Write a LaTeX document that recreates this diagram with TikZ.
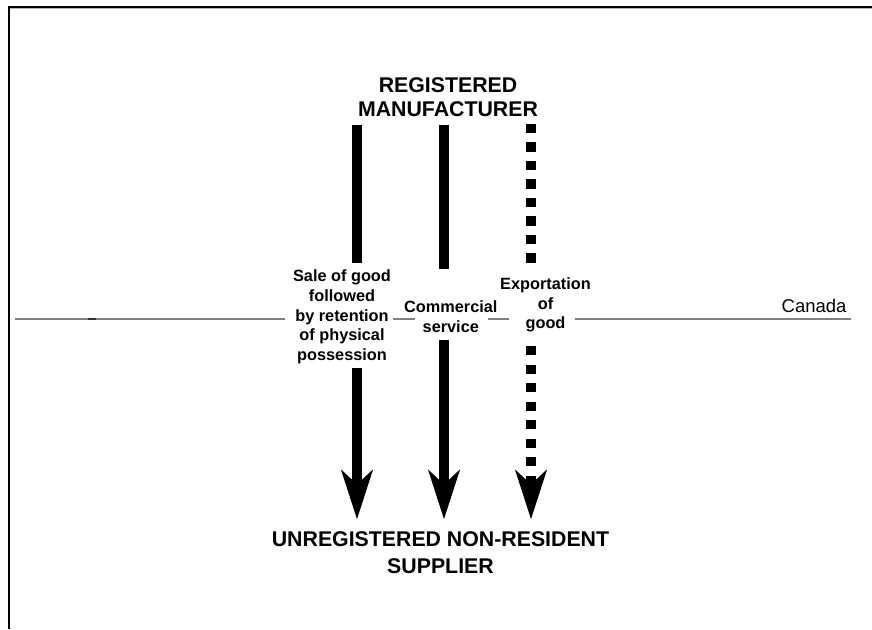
\documentclass[tikz,border=0pt]{standalone}
\usepackage{fontspec}
\setmainfont{Liberation Sans}
\usetikzlibrary{arrows.meta}
\begin{document}
\begin{tikzpicture}[x=1pt,y=-1pt,
  topfont/.style={font=\fontsize{21.3}{24.4}\selectfont\bfseries, align=center, inner sep=0pt},
  botfont/.style={font=\fontsize{21.3}{27.3}\selectfont\bfseries, align=center, inner sep=0pt},
  lab/.style={font=\fontsize{16.3}{19.7}\selectfont\bfseries, align=center, inner sep=0pt},
  shaft/.style={line width=10pt},
  dotshaft/.style={line width=10pt, dash pattern=on 9.3pt off 9.2pt},
  head/.style={-{Stealth[length=49pt,width=31pt,inset=14pt]}},
  framepen/.style={line width=2pt, draw=black},
  hline/.style={line width=1.5pt, draw=black!50}]
\useasboundingbox (0,0) rectangle (872,629);
% frame
\coordinate (f0) at (9,7); \coordinate (f1) at (872,7); \coordinate (f2) at (9,629);
\draw[line width=1pt, draw=black!30] ([yshift=-1.6pt]f0) -- ([yshift=-1.6pt]f1);
\draw[framepen] (f1) -- (f0) -- (f2);
% texts
\node[topfont] (top) at (448,97) {REGISTERED\\MANUFACTURER};
\node[botfont] (bot) at (440.5,552.8) {UNREGISTERED NON-RESIDENT\\SUPPLIER};
\node[lab] (l1) at (342,317) {Sale of good\\followed\\by retention\\of physical\\possession};
\node[lab] (l2) at (450.8,316.7) {Commercial\\service};
\node[lab] (l3) at (545.5,305) {Exportation\\of\\good};
\node[font=\fontsize{18.5}{22}\selectfont, anchor=base east, inner sep=0pt] (can) at (846.7,312.7) {Canada};
% border line (Canada)
\coordinate (wl) at (15,319); \coordinate (el) at (851,319);
\coordinate (h1) at (285,319); \coordinate (h2) at (393,319);
\coordinate (h3) at (415,319); \coordinate (h4) at (488,319);
\coordinate (h5) at (509,319); \coordinate (h6) at (575,319);
\draw[hline] (wl) -- (h1);
\draw[hline] (h2) -- (h3);
\draw[hline] (h4) -- (h5);
\draw[hline] (h6) -- (el);
\coordinate (m0) at (88,319); \coordinate (m1) at (96,319);
\draw[line width=1.5pt, draw=black!80] (m0) -- (m1);
% arrow columns and gaps
\coordinate (a1u) at (357,263); \coordinate (a1d) at (357,368);
\coordinate (a2u) at (444,269); \coordinate (a2d) at (444,340);
\coordinate (a3u) at (531,262.7); \coordinate (a3d) at (531,346);
\draw[shaft] (a1u |- top.south) ++(0,8) -- (a1u);
\draw[shaft] (a2u |- top.south) ++(0,8) -- (a2u);
\draw[dotshaft] (a3u |- top.south) ++(0,7) -- (a3u);
\draw[shaft,head,shorten >=12pt] (a1d) -- (a1d |- bot.north);
\draw[shaft,head,shorten >=12pt] (a2d) -- (a2d |- bot.north);
\draw[dotshaft,head,shorten >=12pt] (a3d) -- (a3d |- bot.north);
\end{tikzpicture}
\end{document}
